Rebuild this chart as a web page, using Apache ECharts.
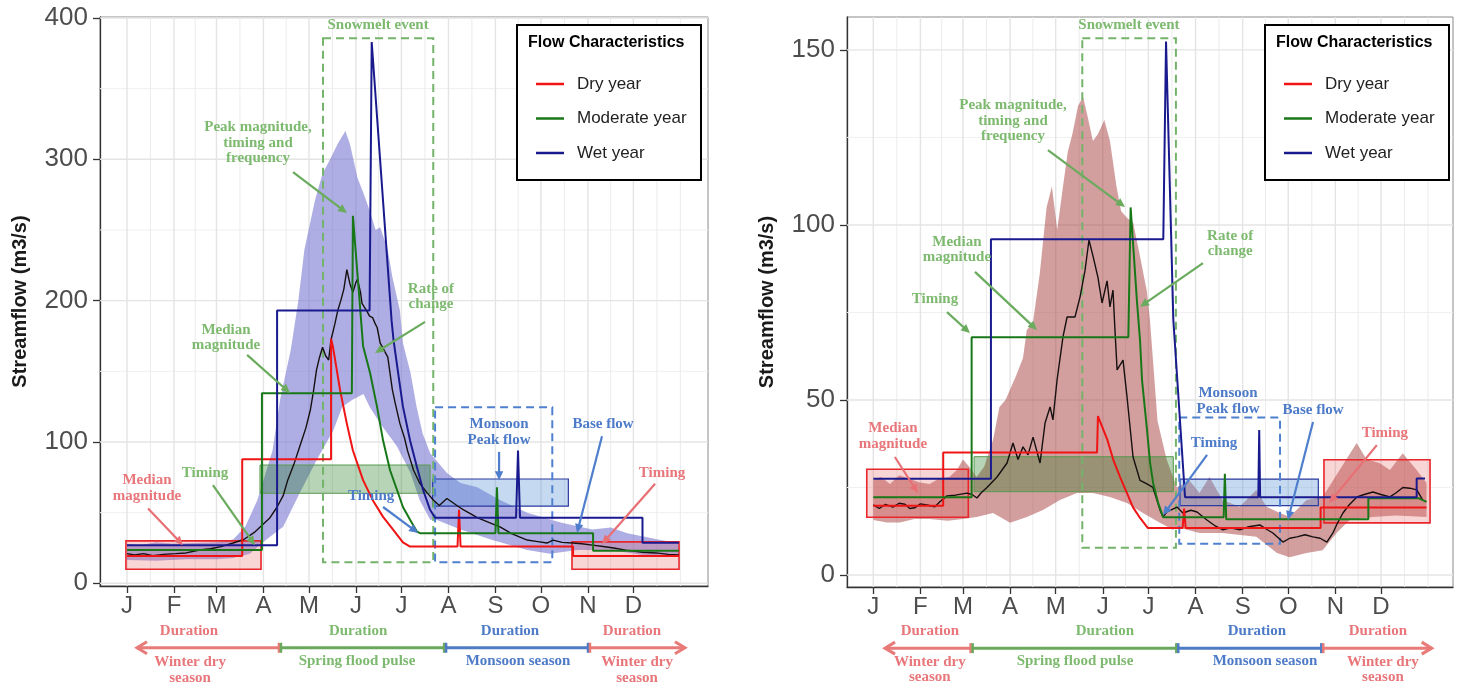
<!DOCTYPE html>
<html><head><meta charset="utf-8">
<script src="https://cdn.jsdelivr.net/npm/echarts@6/dist/echarts.min.js"></script>
<style>html,body{margin:0;padding:0;background:#fff}#c{width:1459px;height:689px}</style>
</head><body><div id="c"></div>
<script>
// ---------- DATA (x = day of year, y = streamflow m3/s) ----------
const monthLabels = ['J','F','M','A','M','J','J','A','S','O','N','D'];
const monthStarts = [1,32,60,91,121,152,182,213,244,274,305,335];
const monthMids = [16.5,46,75.5,106,136.5,167,197.5,228.5,259,289.5,320,350.5,366];
const leftYTicks = [0,100,200,300,400];
const leftYMinor = [50,150,250,350];
const rightYTicks = [0,50,100,150];
const rightYMinor = [25,75,125];
const seriesNames = ['Dry year','Moderate year','Wet year'];

// Left panel
const leftRibbonUpper = [[1,28],[10,27],[20,29],[32,28],[45,28.5],[60,29],[71,31],[79,40],[87,59],[97,94],[102,130],[109,165],[114,200],[118,236],[125,271],[130,290],[135,300],[140,311],[145,320],[148,311],[153,287],[157,276],[161,264],[165,250],[168,252],[173,236],[176,217],[181,193],[183,170],[188,149],[192,125],[196,106],[201,92],[212,78],[221,71],[232,68],[247,59],[265,50],[287,43],[308,38],[320,39.5],[331,35.5],[353,30.6],[365,28.5]];
const leftRibbonLower = [[1,16.5],[20,16],[40,17],[60,17],[71,18],[82,21],[93,31],[104,40],[115,64],[126,87],[137,108],[143,125],[150,130],[157,134],[161,125],[168,113],[179,97],[188,78],[194,59],[201,45],[205,45],[221,38],[242,30.6],[265,23.6],[280,21],[298,23.6],[320,23.6],[341,20],[365,18.6]];
const leftMedian = [[1,21],[6,20],[12,21],[18,19.5],[25,20.5],[33,21],[40,21.5],[49,23.6],[56,24.5],[63,26],[71,28.5],[78,31],[85,36],[89,40],[95,46],[100,54],[104,62],[107,73],[111,84],[115,97],[119,110],[122,123],[124,136],[126,151],[128,160],[130,167],[132,161],[134,158],[135.5,172],[138,183],[140,193],[142,200],[144,208],[146,222],[148,212],[150,206],[152,213],[153,215],[155,206],[156,198],[159,193],[161,189],[163,188],[165,183],[166,181],[168,170],[170,166],[173,160],[176,137],[178,127],[181,113],[184,103],[186,94],[188,87],[190,80],[194,71],[196,68],[199,64],[203,59],[207,55],[210,58],[212,60],[216,57],[220,54],[223,52],[228,49],[232,46.5],[240,43],[247,40],[255,35],[265,30.6],[272,29.5],[278,28.5],[282,30.6],[288,29],[295,28.5],[301,28],[308,27],[315,26],[322,25],[330,23.5],[341,22],[350,21.5],[358,20.5],[365,20]];
const leftDry = [[1,19.3],[77,19.3],[77,87.7],[135.6,87.7],[135.6,173],[136.9,167],[141.5,137],[146,113],[150,94],[156.7,73],[163,59],[169.9,47],[176.5,38],[183,29],[187.7,26],[219,26],[220,52],[221,26],[295.2,26],[295.2,19.3],[365,19.3]];
const leftModerate = [[1,23.5],[90,23.5],[90,134.4],[149.3,134.4],[150,260],[156.7,168],[161.3,149],[165.9,125],[169.9,101],[174.5,80],[179.1,66],[183,54],[187.7,45],[192.3,36.5],[194.3,35.5],[244,35.5],[245,68],[246,35.5],[308.4,35.5],[308.4,23],[365,23]];
const leftWet = [[1,27],[100,27],[100,193],[161,193],[162.4,383],[175.5,186],[176.8,172],[179.8,149],[183,125],[187.7,101],[192.3,82],[196.3,66],[200.9,52],[204.2,46.4],[257.6,46.4],[258.9,94],[260.2,46.4],[341,46.4],[341,28.7],[365,28.7]];
// boxes: [xStart, xEnd, yLow, yHigh]
const leftSnowmeltBox = [130.3,203,14.9,385.6];
const leftMonsoonBox = [204.2,281.5,14.9,124.5];
const leftSpringTimingBox = [88.7,200.9,63.7,83.7];
const leftMonsoonTimingBox = [202.6,292.1,54.6,73.8];
const leftWinterBoxA = [0.3,89.4,10,30];
const leftWinterBoxB = [294.5,365.1,10,29.3];
// annotation labels: [text, x, y, colour key]
const leftLabels = [
  ['Snowmelt event',166.6,395,'g'],
  ['Peak magnitude,\ntiming and\nfrequency',87.4,311.6,'g'],
  ['Rate of\nchange',201.5,203,'g'],
  ['Median\nmagnitude',66.3,174,'g'],
  ['Timing',52.5,78,'g'],
  ['Median\nmagnitude',14.2,67.4,'r'],
  ['Timing',162,61.8,'b'],
  ['Monsoon\nPeak flow',246.4,107,'b'],
  ['Base flow',315,112.8,'b'],
  ['Timing',353.9,78,'r'],
  ['Duration',41.9,-33.8,'r'],
  ['Winter dry\nseason',42.6,-61.3,'r'],
  ['Duration',153.4,-33.8,'g'],
  ['Spring flood pulse',152.7,-55,'g'],
  ['Duration',253.6,-33.8,'b'],
  ['Monsoon season',258.9,-55,'b'],
  ['Duration',334.1,-33.8,'r'],
  ['Winter dry\nseason',337.4,-61.3,'r']
];
// arrows: [x0, y0, x1 (tip), y1 (tip), colour key]
const leftArrows = [[110.5,291,146.1,262,'g'],[197.6,185,164.6,163,'g'],[80.2,161.6,108.5,134.7,'g'],[57.7,69.5,85.4,27,'g'],[14.9,53,37.9,27,'r'],[169.9,54,193,35.6,'b'],[246.4,93,246.4,73,'b'],[314.3,104,297.8,35.6,'b'],[349.3,70.5,314.3,27.8,'r']];
// season bars: [xStart, xEnd, colour key, arrow at end]
const leftSeasons = [[101.9,7.6,'r',1],[101.9,210.8,'g',0],[210.8,305.7,'b',0],[305.7,369,'r',1]];
const leftSeasonY = -45.6;

// Right panel
const rightRibbonUpper = [[1,27],[6,28],[12,26],[18,28.5],[25,27.5],[31,26.5],[38,26],[44,27.5],[51,28],[56,30],[60,33],[64,31],[69,28],[74,31],[79.8,38.6],[84,48],[88,50],[91,53],[95,57],[99.5,62],[102,70],[106,72],[110.5,86],[115,105],[118.5,111],[122,98.6],[125.5,110],[129,121],[132,126],[135.7,134],[139,136.6],[142,131],[145.5,124],[148.8,126],[153,130],[156.7,124],[161,111],[164,104],[168,102],[172,100.6],[176.5,91],[181,81],[183,73],[188,44],[194,33],[200.7,25],[205,26],[209,27],[215.6,23.4],[222.2,28],[230.7,21.4],[242,19.5],[253,24.3],[259.7,19.5],[267,18],[274.9,16.6],[286,21.4],[296.6,22.3],[307.8,30],[319,37.7],[325.6,33],[334,32],[340.9,30],[349.3,34.8],[358.5,30],[365,26.3]];
const rightRibbonLower = [[1,15.7],[10,15],[18.5,15],[28,16],[38,16],[50,15.5],[60,16],[69,16.6],[79.8,17.7],[91,14.9],[102,16.6],[112.6,18.6],[123.8,21.4],[135,23.4],[145.5,23.4],[156.7,22.3],[167.9,20.6],[178.4,17.7],[189.6,14.9],[198.2,12.9],[200.7,13.7],[215.6,12],[230.7,12],[253,10.9],[266.6,6.3],[274.9,5.1],[286,6.3],[296.6,7.1],[305.8,12],[314.4,15.7],[329.5,16.6],[345,17],[365,16.6]];
const rightMedian = [[1,20],[5,19],[9,20.2],[13.9,19.4],[18,20.5],[21.8,20.2],[25,19],[28.4,19.2],[32,20.3],[36.3,20],[41.5,19.5],[44.8,20.9],[49.5,22.6],[55,22.8],[62.6,23.4],[66,23],[69.2,22],[72,23.5],[75.8,25],[82.4,28],[89,32],[92.9,37.7],[96.2,33],[99.5,36.6],[102.8,34.3],[106.1,39.4],[110.7,32],[114,43.4],[117.3,48],[119.2,44.3],[121.9,55.7],[125.8,68],[128.5,73.7],[133.7,73.7],[137,79.4],[140.3,87],[142.9,95.7],[145.6,91],[148.8,85],[151.5,77.7],[154.8,84],[156.7,76.6],[158.7,81.4],[160,70],[161.4,58.6],[165.3,61.4],[167.9,51],[171.9,33.7],[176.5,27],[181,26],[185,25],[189.6,18.6],[191.6,16.6],[194.2,18],[200.8,19.4],[204.7,17.7],[210,18.5],[214,18],[220.5,15.7],[226,14],[231,12.9],[236,13.5],[242.2,12.9],[248,13.8],[255.3,14.3],[260,13],[263.9,12],[270.5,9.4],[275,10.5],[279.7,10.9],[285,11.5],[290.2,10.9],[295,10.5],[299.4,9.4],[303.4,12],[306,14.5],[310,17.7],[314,20],[319.2,22.3],[324,23],[329.7,23.7],[335,23],[340.9,22.3],[345,23.5],[349.4,25],[354,24.8],[358.6,24.3],[362.5,21.4]];
const rightDry = [[1,19.8],[47,19.8],[47,35],[148.2,35],[148.8,45.4],[155,38.6],[158.9,32.9],[163.3,28],[167.9,23.4],[171.8,19.4],[176.5,16.3],[181.7,13.4],[204.5,13.4],[205.5,19],[206.5,13.4],[295.3,13.4],[295.3,19.3],[365,19.3]];
const rightModerate = [[1,22.2],[65.7,22.2],[65.7,67.9],[168.8,67.9],[170.3,105],[174.5,78],[176.5,67],[177.8,55.7],[181.1,41.4],[183.1,32],[185.1,26.3],[188.4,20.6],[191.7,16.5],[231.5,16.5],[232.3,28.9],[233.2,15.9],[326.7,15.9],[326.7,21.9],[360,21.9],[365,20.9]];
const rightWet = [[1,27.5],[78.4,27.5],[78.4,95.9],[191.8,95.9],[193.6,152.4],[198.4,72.9],[206.1,22.2],[254.3,22.2],[254.9,41.4],[255.5,22.2],[358.5,22.2],[358.5,27.6],[364,27.6]];
const rightSnowmeltBox = [138.5,200.1,7.8,153.3];
const rightMonsoonBox = [202.3,268.6,8.9,45];
const rightSpringTimingBox = [67.3,198.4,23.8,33.8];
const rightMonsoonTimingBox = [202.8,293.8,19.8,27.4];
const rightWinterBoxA = [-3.3,63.5,16.5,30.2];
const rightWinterBoxB = [297.5,367.3,14.9,32.9];
const rightLabels = [
  ['Snowmelt event',169.2,157.1,'g'],
  ['Peak magnitude,\ntiming and\nfrequency',92.9,129.7,'g'],
  ['Median\nmagnitude',56,92.9,'g'],
  ['Timing',41.6,78.9,'g'],
  ['Rate of\nchange',235.8,94.6,'g'],
  ['Median\nmagnitude',13.9,39.7,'r'],
  ['Monsoon\nPeak flow',234.4,49.7,'b'],
  ['Base flow',290.3,47.1,'b'],
  ['Timing',225.2,37.7,'b'],
  ['Timing',337.6,40.6,'r'],
  ['Duration',38.2,-16,'r'],
  ['Winter dry\nseason',38.2,-27.1,'r'],
  ['Duration',153.4,-16,'g'],
  ['Spring flood pulse',133.7,-24.6,'g'],
  ['Duration',253.4,-16,'b'],
  ['Monsoon season',258.7,-24.6,'b'],
  ['Duration',333,-16,'r'],
  ['Winter dry\nseason',336.3,-27.1,'r']
];
const rightArrows = [[115.9,121.4,166.6,105.1,'g'],[67.9,86.6,108.7,70,'g'],[49.5,75.1,64.6,69.1,'g'],[217.9,89.1,176.5,76.6,'g'],[15.2,33.7,30.4,23.4,'r'],[290.3,43.7,273.8,15.7,'b'],[220.6,34.3,191.6,17.1,'b'],[332.3,37.1,301,20.6,'r']];
const rightSeasons = [[65.7,8.7,'r',1],[65.7,201,'g',0],[201,296.4,'b',0],[296.4,368.4,'r',1]];
const rightSeasonY = -20.9;

// ---------- STYLES ----------
const TXT = {r:'#e8767a', g:'#7dba6f', b:'#4d7bc8'};
const ARR = {r:'#e87075', g:'#6aab5e', b:'#4f7fcc'};
const DUR = {r:'#e87a78', g:'#6aa85e', b:'#4f7bc4'};
const LINE_COLORS = ['#f01414','#187818','#1a1a8f'];
const ANN_FONT = 'bold 15px "Liberation Serif", "Times New Roman", serif';
const SANS = '"Liberation Sans", Arial, sans-serif';

const panels = [
  {ribU:leftRibbonUpper, ribL:leftRibbonLower, ribColor:'rgba(115,115,208,0.58)', median:leftMedian, steps:[leftDry,leftModerate,leftWet],
   snow:leftSnowmeltBox, mon:leftMonsoonBox, spT:leftSpringTimingBox, moT:leftMonsoonTimingBox, wA:leftWinterBoxA, wB:leftWinterBoxB,
   labels:leftLabels, arrows:leftArrows, seasons:leftSeasons, seasonY:leftSeasonY, yTicks:leftYTicks, yMinor:leftYMinor,
   grid:{left:100, top:17, width:608, height:569}, xMin:-16.8, xMax:384.2, yMin:-1.9, yMax:400.7, legendLeft:531, boxX:517},
  {ribU:rightRibbonUpper, ribL:rightRibbonLower, ribColor:'rgba(168,62,62,0.5)', median:rightMedian, steps:[rightDry,rightModerate,rightWet],
   snow:rightSnowmeltBox, mon:rightMonsoonBox, spT:rightSpringTimingBox, moT:rightMonsoonTimingBox, wA:rightWinterBoxA, wB:rightWinterBoxB,
   labels:rightLabels, arrows:rightArrows, seasons:rightSeasons, seasonY:rightSeasonY, yTicks:rightYTicks, yMinor:rightYMinor,
   grid:{left:847, top:17, width:606, height:570}, xMin:-16.3, xMax:382.4, yMin:-3.43, yMax:159.4, legendLeft:1279, boxX:1265}
];

function gridRender(P){
  return function(params, api){
    const cs = params.coordSys; const ch = [];
    const hl = (v, col, w) => { const y = api.coord([0, v])[1]; ch.push({type:'line', shape:{x1:cs.x, y1:y, x2:cs.x+cs.width, y2:y}, style:{stroke:col, lineWidth:w}}); };
    const vl = (d, col, w) => { const x = api.coord([d, 0])[0]; ch.push({type:'line', shape:{x1:x, y1:cs.y, x2:x, y2:cs.y+cs.height}, style:{stroke:col, lineWidth:w}}); };
    P.yMinor.forEach(v => hl(v, '#f0f0f0', 1));
    monthMids.forEach(d => vl(d, '#ececec', 1));
    P.yTicks.forEach(v => hl(v, '#e4e4e4', 1.4));
    monthStarts.forEach(d => vl(d, '#e4e4e4', 1.4));
    return {type:'group', children:ch};
  };
}
function ribbonRender(P){
  return function(params, api){
    const pts = P.ribU.map(p => api.coord(p)).concat(P.ribL.slice().reverse().map(p => api.coord(p)));
    return {type:'polygon', shape:{points:pts}, style:{fill:P.ribColor}};
  };
}
function rectOf(api, b){
  const a = api.coord([b[0], b[3]]), c = api.coord([b[1], b[2]]);
  return {x:a[0], y:a[1], width:c[0]-a[0], height:c[1]-a[1]};
}
function boxRender(P){
  return function(params, api){
    const ch = [];
    ch.push({type:'rect', shape:rectOf(api,P.wA), style:{fill:'rgba(232,90,90,0.25)', stroke:'#e8262b', lineWidth:1.6}});
    ch.push({type:'rect', shape:rectOf(api,P.wB), style:{fill:'rgba(232,90,90,0.25)', stroke:'#e8262b', lineWidth:1.6}});
    ch.push({type:'rect', shape:rectOf(api,P.spT), style:{fill:'rgba(30,120,30,0.32)', stroke:'#5a9a50', lineWidth:1}});
    ch.push({type:'rect', shape:rectOf(api,P.moT), style:{fill:'rgba(90,150,215,0.35)', stroke:'#2a3aa0', lineWidth:1.2}});
    ch.push({type:'rect', shape:rectOf(api,P.snow), style:{fill:'none', stroke:'#74b36a', lineWidth:2, lineDash:[8,5]}});
    ch.push({type:'rect', shape:rectOf(api,P.mon), style:{fill:'none', stroke:'#4f80d0', lineWidth:2, lineDash:[8,5]}});
    return {type:'group', children:ch};
  };
}
function arrowHead(x0,y0,x1,y1,len,hw){
  const dx=x1-x0, dy=y1-y0, L=Math.sqrt(dx*dx+dy*dy)||1, ux=dx/L, uy=dy/L;
  const bx=x1-ux*len, by=y1-uy*len;
  return [[x1,y1],[bx-uy*hw, by+ux*hw],[bx+uy*hw, by-ux*hw]];
}
function annRender(P){
  return function(params, api){
    const ch = [];
    P.arrows.forEach(a => {
      const p0 = api.coord([a[0],a[1]]), p1 = api.coord([a[2],a[3]]);
      const h = arrowHead(p0[0],p0[1],p1[0],p1[1],9,4.2);
      const L = Math.hypot(p1[0]-p0[0], p1[1]-p0[1]);
      const e = [p1[0]-(p1[0]-p0[0])/L*6, p1[1]-(p1[1]-p0[1])/L*6];
      ch.push({type:'line', shape:{x1:p0[0],y1:p0[1],x2:e[0],y2:e[1]}, style:{stroke:ARR[a[4]], lineWidth:2.2}});
      ch.push({type:'polygon', shape:{points:h}, style:{fill:ARR[a[4]]}});
    });
    P.seasons.forEach(s => {
      const p0 = api.coord([s[0], P.seasonY]), p1 = api.coord([s[1], P.seasonY]);
      const col = DUR[s[2]];
      ch.push({type:'line', shape:{x1:p0[0],y1:p0[1],x2:p1[0],y2:p1[1]}, style:{stroke:col, lineWidth:3}});
      const dir = Math.sign(p1[0]-p0[0]);
      ch.push({type:'line', shape:{x1:p0[0]+dir*1,y1:p0[1]-5,x2:p0[0]+dir*1,y2:p0[1]+5}, style:{stroke:col, lineWidth:2.5}});
      if (s[3]) {
        ch.push({type:'polyline', shape:{points:[[p1[0]-dir*10,p1[1]-6],[p1[0],p1[1]],[p1[0]-dir*10,p1[1]+6]]}, style:{stroke:col, lineWidth:3, fill:'none', lineJoin:'miter'}});
      } else {
        ch.push({type:'line', shape:{x1:p1[0]-dir*1,y1:p1[1]-5,x2:p1[0]-dir*1,y2:p1[1]+5}, style:{stroke:col, lineWidth:2.5}});
      }
    });
    P.labels.forEach(t => {
      const p = api.coord([t[1], t[2]]);
      ch.push({type:'text', x:p[0], y:p[1], style:{text:t[0], fill:TXT[t[3]], font:ANN_FONT, align:'center', verticalAlign:'middle', lineHeight:15.5}});
    });
    return {type:'group', children:ch};
  };
}

const grid = [], xAxis = [], yAxis = [], series = [], legend = [], graphic = [];
panels.forEach((P, i) => {
  grid.push(Object.assign({show:true, borderColor:'#8a8a8a', borderWidth:1, containLabel:false}, P.grid));
  xAxis.push({type:'value', gridIndex:i, min:P.xMin, max:P.xMax,
    axisLine:{show:true, onZero:false, lineStyle:{color:'#333', width:1.3}},
    axisTick:{show:true, customValues:monthStarts, length:7, lineStyle:{color:'#333', width:1.3}},
    axisLabel:{customValues:monthStarts, formatter:v => monthLabels[monthStarts.indexOf(v)], fontSize:24, color:'#4d4d4d', margin:8, fontFamily:SANS},
    splitLine:{show:false}});
  yAxis.push({type:'value', gridIndex:i, min:P.yMin, max:P.yMax,
    name:'Streamflow (m3/s)', nameLocation:'middle', nameGap:70,
    nameTextStyle:{fontSize:20, fontWeight:'bold', color:'#1a1a1a', fontFamily:SANS},
    axisLine:{show:true, onZero:false, lineStyle:{color:'#333', width:1.3}},
    axisTick:{show:true, customValues:P.yTicks, length:7, lineStyle:{color:'#333', width:1.3}},
    axisLabel:{customValues:P.yTicks, fontSize:26, color:'#4d4d4d', margin:12, fontFamily:SANS},
    splitLine:{show:false}});
  const base = {xAxisIndex:i, yAxisIndex:i, silent:true, animation:false};
  series.push(Object.assign({type:'custom', data:[[1,1]], renderItem:gridRender(P), z:1, clip:false}, base));
  series.push(Object.assign({type:'custom', data:[[1,1]], renderItem:ribbonRender(P), z:2, clip:false}, base));
  series.push(Object.assign({type:'custom', data:[[1,1]], renderItem:boxRender(P), z:3, clip:false}, base));
  series.push(Object.assign({type:'line', name:'Median', data:P.median, showSymbol:false, symbol:'none', lineStyle:{color:'#161010', width:1.4}, z:4}, base));
  P.steps.forEach((d, k) => {
    series.push(Object.assign({type:'line', name:seriesNames[k], data:d, showSymbol:false, symbol:'none', color:LINE_COLORS[k], lineStyle:{color:LINE_COLORS[k], width:2}, z:5}, base));
  });
  series.push(Object.assign({type:'custom', data:[[1,1]], renderItem:annRender(P), z:6, clip:false}, base));
  legend.push({left:P.legendLeft, top:69, orient:'vertical', selectedMode:false, data:seriesNames, icon:'rect', itemWidth:28, itemHeight:2.5, itemGap:14.5, z:10,
    textStyle:{fontSize:17, color:'#222', fontFamily:SANS, lineHeight:20, padding:[0,0,0,8]}});
  graphic.push({type:'rect', z:8, shape:{x:P.boxX, y:25, width:184, height:155}, style:{fill:'#fff', stroke:'#000', lineWidth:2}});
  graphic.push({type:'text', z:9, x:P.boxX+11, y:43, style:{text:'Flow Characteristics', font:'bold 16px ' + SANS, fill:'#000', verticalAlign:'middle'}});
});

const chart = echarts.init(document.getElementById('c'), null, {renderer:'canvas'});
chart.setOption({animation:false, backgroundColor:'#fff', grid, xAxis, yAxis, series, legend, graphic});
</script></body></html>
